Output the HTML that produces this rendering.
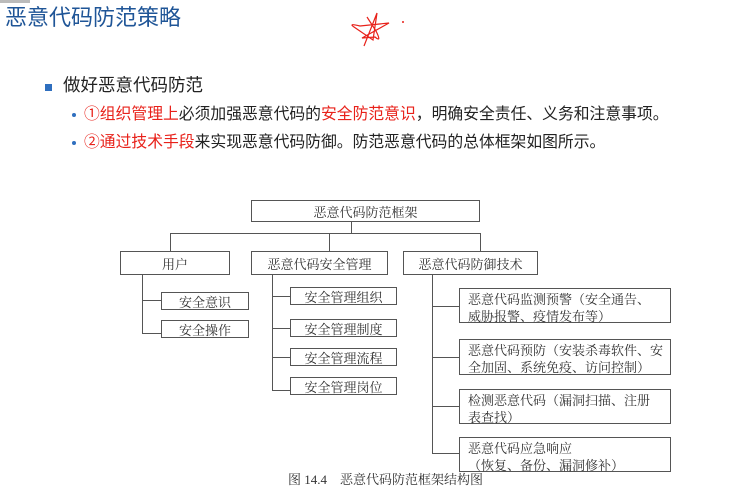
<!DOCTYPE html>
<html><head><meta charset="utf-8"><style>
body{margin:0;width:729px;height:485px;background:#fff;position:relative;overflow:hidden;font-family:"Liberation Sans","Noto Sans CJK SC",sans-serif}
.a{position:absolute;white-space:nowrap}
.b{position:absolute;border:1px solid #555;box-sizing:border-box;font-family:"Liberation Serif","Noto Serif CJK SC",serif;font-size:13px;color:#333;background:#fff}
.c{display:flex;align-items:center;justify-content:center}
.l{padding:2px 0 0 8px;line-height:17px}
.h{position:absolute;background:#555;height:1px}
.v{position:absolute;background:#555;width:1px}
.r{color:#e8211a}
</style></head><body>
<div class="a" style="left:0;top:0;width:30px;height:3px;background:#bbb"></div>
<div class="a" style="left:5px;top:5px;font-size:22px;color:#1f5597;line-height:26px">恶意代码防范策略</div>
<svg class="a" style="left:340px;top:5px" width="80" height="50"><path d="M24 41 L37 8 L33 35 L14 22 Q8 18 20 21 L49 18 L22 33 L35 32 Q42 38 36 26 L27 12" fill="none" stroke="#e8211a" stroke-width="1.2"/><circle cx="63" cy="17" r="1" fill="#e8211a"/></svg>
<div class="a" style="left:45px;top:84px;width:7px;height:7px;background:#2f6fbf"></div>
<div class="a" style="left:63px;top:74px;font-size:17.5px;color:#222;line-height:22px">做好恶意代码防范</div>
<div class="a" style="left:72px;top:113px;width:4px;height:4px;border-radius:2px;background:#2f6fbf"></div>
<div class="a" style="left:84px;top:105px;font-size:15.8px;color:#222;line-height:20px"><span class="r">①组织管理上</span>必须加强恶意代码的<span class="r">安全防范意识</span>，明确安全责任、义务和注意事项。</div>
<div class="a" style="left:72px;top:141px;width:4px;height:4px;border-radius:2px;background:#2f6fbf"></div>
<div class="a" style="left:84px;top:133px;font-size:15.8px;color:#222;line-height:20px"><span class="r">②通过技术手段</span>来实现恶意代码防御。防范恶意代码的总体框架如图所示。</div>

<div class="b c" style="left:251px;top:200px;width:229px;height:22px">恶意代码防范框架</div>
<div class="v" style="left:351px;top:222px;height:11px"></div>
<div class="h" style="left:170px;top:233px;width:311px"></div>
<div class="v" style="left:170px;top:233px;height:18px"></div>
<div class="v" style="left:329px;top:233px;height:18px"></div>
<div class="v" style="left:480px;top:233px;height:18px"></div>
<div class="b c" style="left:120px;top:251px;width:110px;height:24px">用户</div>
<div class="b c" style="left:251px;top:251px;width:137px;height:24px">恶意代码安全管理</div>
<div class="b c" style="left:403px;top:251px;width:135px;height:24px">恶意代码防御技术</div>

<div class="v" style="left:142px;top:275px;height:58px"></div>
<div class="h" style="left:142px;top:300px;width:19px"></div>
<div class="h" style="left:142px;top:333px;width:19px"></div>
<div class="b c" style="left:161px;top:292px;width:88px;height:18px">安全意识</div>
<div class="b c" style="left:161px;top:320px;width:88px;height:18px">安全操作</div>

<div class="v" style="left:272px;top:275px;height:115px"></div>
<div class="h" style="left:272px;top:296px;width:18px"></div>
<div class="h" style="left:272px;top:328px;width:18px"></div>
<div class="h" style="left:272px;top:357px;width:18px"></div>
<div class="h" style="left:272px;top:390px;width:18px"></div>
<div class="b c" style="left:290px;top:287px;width:107px;height:18px">安全管理组织</div>
<div class="b c" style="left:290px;top:319px;width:107px;height:18px">安全管理制度</div>
<div class="b c" style="left:290px;top:348px;width:107px;height:18px">安全管理流程</div>
<div class="b c" style="left:290px;top:377px;width:107px;height:18px">安全管理岗位</div>

<div class="v" style="left:432px;top:275px;height:178px"></div>
<div class="h" style="left:432px;top:306px;width:27px"></div>
<div class="h" style="left:432px;top:357px;width:27px"></div>
<div class="h" style="left:432px;top:406px;width:27px"></div>
<div class="h" style="left:432px;top:453px;width:27px"></div>
<div class="b l" style="left:459px;top:288px;width:212px;height:35px">恶意代码监测预警（安全通告、<br>威胁报警、疫情发布等）</div>
<div class="b l" style="left:459px;top:339px;width:212px;height:36px">恶意代码预防（安装杀毒软件、安<br>全加固、系统免疫、访问控制）</div>
<div class="b l" style="left:459px;top:389px;width:212px;height:35px">检测恶意代码（漏洞扫描、注册<br>表查找）</div>
<div class="b l" style="left:459px;top:437px;width:212px;height:35px">恶意代码应急响应<br>（恢复、备份、漏洞修补）</div>
<div class="a" style="left:288px;top:472px;font-family:'Liberation Serif','Noto Serif CJK SC',serif;font-size:13px;color:#333;line-height:16px">图 14.4　恶意代码防范框架结构图</div>
</body></html>
